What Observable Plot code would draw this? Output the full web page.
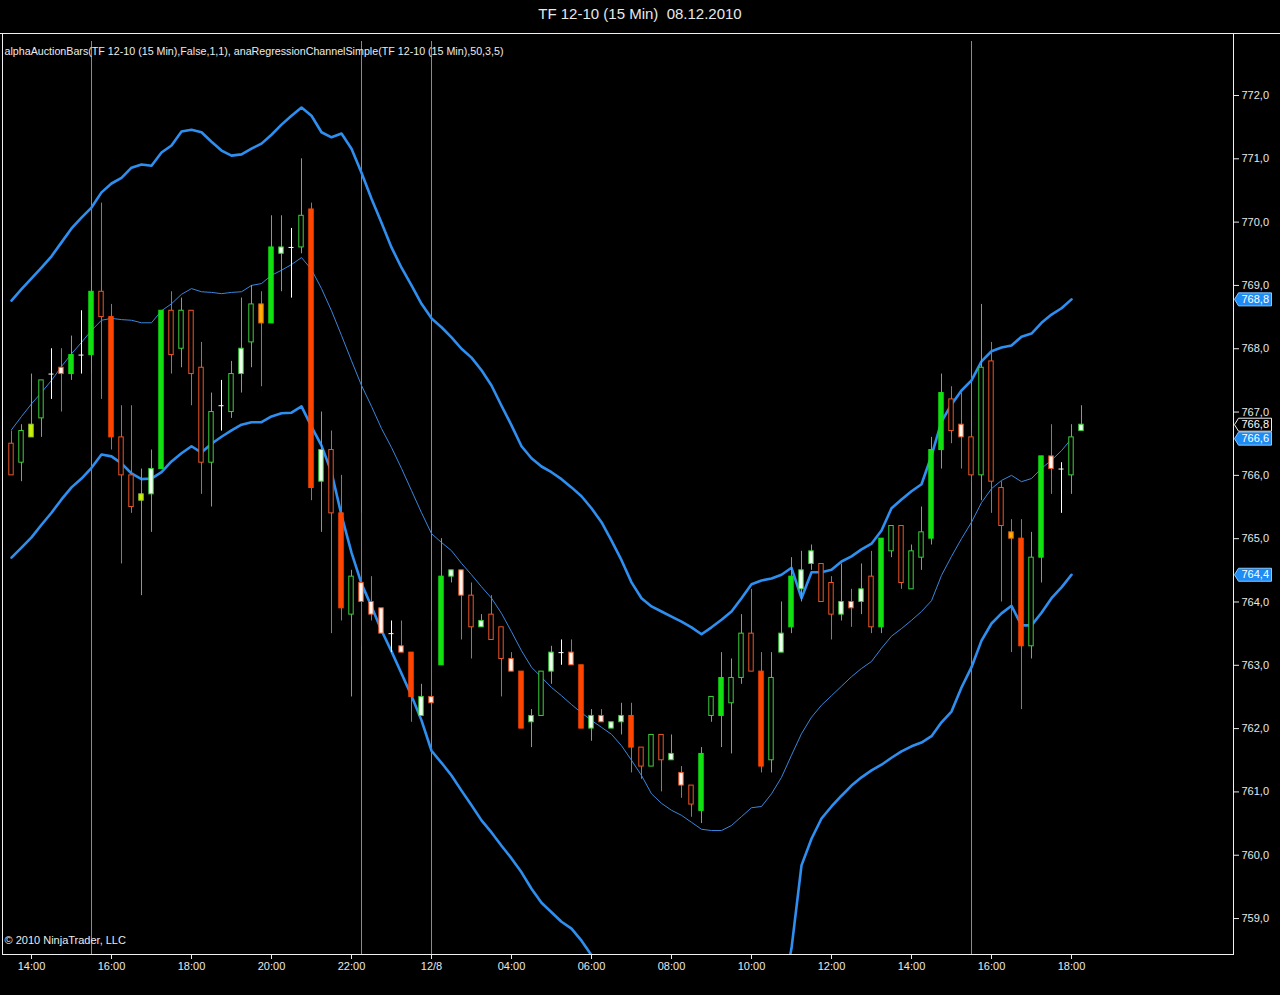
<!DOCTYPE html>
<html>
<head>
<meta charset="utf-8">
<script src="https://cdn.jsdelivr.net/npm/d3@7"></script>
<script src="https://cdn.jsdelivr.net/npm/@observablehq/plot@0.6"></script>
<style>
  html, body { margin: 0; padding: 0; background: #000; overflow: hidden; }
  #title { height: 33px; border-bottom: 1px solid #f0f0f0; color: #e8e8e8; font: 15px "Liberation Sans", Arial, sans-serif;
           text-align: center; line-height: 27px; white-space: pre; }
  #chart svg { display: block; }
</style>
</head>
<body>
<div id="title">TF 12-10 (15 Min)  08.12.2010</div>
<div id="chart"></div>
<script>
// ---- data (15-minute bars, index 0 = 13:30 on 12/7) ----
const barOpen = [766.5,766.2,766.6,766.9,767.6,767.7,767.6,767.9,767.9,768.9, 768.5,766.6,766.0,765.6,765.7,766.1,768.6,768.0,768.6,767.7, 766.2,767.1,767.0,767.6,768.1,768.7,768.4,769.5,769.6,769.6, 770.2,765.9,766.4,765.4,763.8,764.3,764.0,763.9,763.5,763.3, 763.2,762.2,762.5,763.0,764.4,764.5,764.1,763.6,763.8,763.6, 763.1,762.9,762.1,762.2,762.9,763.2,763.2,763.0,762.0,762.2, 762.0,762.1,762.2,761.7,761.4,761.9,761.5,761.3,761.1,760.7, 762.2,762.2,762.4,762.8,763.5,762.9,761.5,763.2,763.6,764.2, 764.6,764.6,764.3,763.8,764.0,764.0,764.4,763.6,764.8,765.2, 764.2,764.7,765.0,766.4,767.2,766.8,766.6,766.0,767.8,765.8, 765.1,765.0,763.3,764.7,766.3,766.1,766.0,766.7];
const barHigh = [766.7,766.8,767.6,767.5,768.0,768.0,768.2,768.6,769.3,770.3, 768.7,767.1,767.1,766.1,766.4,768.6,768.9,768.8,768.6,768.1, 767.3,767.5,767.8,768.8,769.0,768.9,770.1,770.1,769.9,771.0, 770.3,767.0,766.7,766.0,764.5,765.4,764.4,763.9,763.7,763.7, 763.2,762.7,763.7,765.0,764.5,764.5,764.3,763.8,764.1,763.6, 763.2,762.9,762.3,762.9,763.3,763.4,763.4,763.0,762.3,762.3, 762.1,762.4,762.4,761.7,761.9,761.9,761.9,761.4,761.1,761.7, 762.5,763.2,763.1,763.8,764.2,763.2,763.2,764.0,764.7,764.8, 764.9,764.6,764.4,764.6,764.2,764.6,764.8,765.0,765.2,765.2, 764.9,765.5,766.6,767.6,767.4,767.3,766.7,768.7,768.1,765.9, 765.3,765.3,765.1,766.3,766.8,766.2,766.8,767.1];
const barLow = [766.0,765.9,766.6,766.6,767.2,767.0,767.5,767.6,767.6,767.2, 766.4,764.6,765.4,764.1,765.1,766.1,767.6,767.7,767.1,765.7, 765.5,766.7,766.9,767.3,767.7,767.4,768.4,768.9,768.8,769.5, 765.6,765.1,763.5,763.7,762.5,763.3,763.7,763.5,763.2,763.2, 762.1,762.2,762.4,763.0,764.3,763.4,763.1,763.6,763.4,762.5, 762.9,762.0,761.7,762.2,762.7,763.0,763.0,762.0,761.8,762.1, 762.0,761.9,761.3,761.2,761.4,761.0,761.5,760.9,760.6,760.5, 762.1,761.7,761.6,762.7,762.9,761.3,761.3,763.2,763.5,764.0, 764.5,764.0,763.4,763.7,763.6,763.8,763.5,763.5,764.7,764.2, 764.2,764.5,764.9,766.1,766.5,766.1,765.9,765.6,765.4,764.0, 763.2,762.3,763.1,764.3,765.7,765.4,765.7,766.7];
const barClose = [766.0,766.7,766.8,767.5,767.6,767.6,767.9,767.9,768.9,768.5, 766.6,766.0,765.5,765.7,766.1,768.6,767.9,768.6,767.6,766.2, 767.0,767.1,767.6,768.0,768.7,768.4,769.6,769.6,769.6,770.1, 765.8,766.4,765.4,763.9,764.4,764.0,763.8,763.5,763.5,763.2, 762.5,762.5,762.4,764.4,764.5,764.1,763.6,763.7,763.4,763.1, 762.9,762.0,762.2,762.9,763.2,763.2,763.0,762.0,762.2,762.1, 762.1,762.2,761.7,761.4,761.9,761.5,761.6,761.1,760.8,761.6, 762.5,762.8,762.8,763.5,762.9,761.4,762.8,763.5,764.4,764.5, 764.8,764.0,763.8,764.0,763.9,764.2,763.6,765.0,765.2,764.3, 764.8,765.1,766.4,767.3,766.7,766.6,766.0,767.7,765.9,765.2, 765.0,763.3,764.7,766.3,766.1,766.1,766.6,766.8];
// auction-bar category: G strong up, R strong down, g up, r down, wg/wr small up/down, y/o signal bars, d doji
const barKind = ["r","g","y","g","d","wr","G","d","G","r", "R","r","r","y","wg","G","r","g","r","r", "g","d","g","wg","g","o","G","wg","d","g", "R","wg","r","R","g","wr","wr","wr","d","wr", "R","wg","wr","G","wg","wr","r","wg","r","r", "wr","R","wg","g","wg","d","wr","R","wg","wr", "wg","wg","R","r","g","r","wg","wr","r","G", "g","G","g","g","r","R","g","wg","G","wg", "wg","r","r","wg","wr","wg","r","G","g","r", "g","g","G","G","r","wr","r","g","r","r", "o","R","g","G","wr","d","g","wg"];

// regression channel (per bar, bars 0..106)
const channelUpper = [768.76,768.94,769.11,769.28,769.46,769.68,769.90,770.07,770.23,770.47, 770.61,770.70,770.86,770.91,770.89,771.10,771.21,771.43,771.46,771.42, 771.27,771.13,771.05,771.07,771.16,771.24,771.38,771.54,771.68,771.81, 771.68,771.42,771.34,771.40,771.16,770.78,770.37,769.99,769.60,769.28, 769.00,768.71,768.48,768.34,768.18,768.00,767.86,767.66,767.42,767.10, 766.79,766.46,766.27,766.14,766.05,765.94,765.81,765.67,765.48,765.26, 764.97,764.66,764.31,764.06,763.93,763.85,763.77,763.69,763.60,763.49, 763.60,763.72,763.85,764.06,764.28,764.34,764.37,764.43,764.54,764.06, 764.47,764.47,764.51,764.64,764.72,764.83,764.92,765.13,765.48,765.62, 765.75,765.86,766.31,766.85,767.12,767.34,767.50,767.80,767.96,768.02, 768.05,768.19,768.24,768.41,768.54,768.64,768.78];
const channelMiddle = [766.72,766.93,767.13,767.31,767.50,767.72,767.92,768.10,768.29,768.45, 768.48,768.46,768.45,768.41,768.41,768.60,768.71,768.86,768.95,768.90, 768.89,768.87,768.89,768.90,769.00,769.03,769.16,769.24,769.33,769.44, 769.25,768.95,768.60,768.21,767.81,767.42,767.09,766.74,766.44,766.11, 765.76,765.41,765.08,764.94,764.81,764.61,764.43,764.24,764.06,763.82, 763.53,763.23,762.97,762.81,762.65,762.52,762.38,762.25,762.13,762.02, 761.91,761.73,761.50,761.26,760.97,760.82,760.71,760.63,760.52,760.41, 760.39,760.39,760.47,760.61,760.75,760.77,760.97,761.23,761.58,761.92, 762.18,762.37,762.52,762.67,762.82,762.95,763.06,763.27,763.46,763.58, 763.71,763.85,764.02,764.42,764.72,765.00,765.26,765.57,765.79,765.92, 766.00,765.90,765.95,766.11,766.24,766.39,766.58];
const channelLower = [764.70,764.86,765.02,765.22,765.41,765.62,765.81,765.95,766.12,766.33, 766.30,766.19,766.03,765.94,765.95,766.05,766.22,766.35,766.46,766.36, 766.50,766.61,766.71,766.80,766.84,766.84,766.93,766.98,766.99,767.09, 766.77,766.47,766.05,765.37,764.78,764.29,763.93,763.55,763.22,762.87, 762.52,762.13,761.65,761.46,761.26,761.02,760.79,760.55,760.36,760.15, 759.95,759.73,759.47,759.25,759.10,758.95,758.84,758.65,758.42,758.10, 757.83,757.63,757.47,757.36,757.26,757.23,757.20,757.17,757.14,757.07, 757.15,757.23,757.26,757.31,757.39,757.47,757.55,757.71,758.53,759.84, 760.26,760.58,760.77,760.94,761.10,761.23,761.34,761.43,761.54,761.64, 761.72,761.78,761.88,762.10,762.27,762.65,762.97,763.39,763.66,763.82, 763.94,763.63,763.63,763.83,764.06,764.23,764.43];

const xTickIdx = [2,10,18,26,34,42,50,58,66,74,82,90,98,106];
const xTickLabels = ["14:00","16:00","18:00","20:00","22:00","12/8","04:00","06:00","08:00","10:00","12:00","14:00","16:00","18:00"];
const yTicks = [759,760,761,762,763,764,765,766,767,768,769,770,771,772];
const sessionBreaks = [8,35,42,96];

const indicatorText = "alphaAuctionBars(TF 12-10 (15 Min),False,1,1), anaRegressionChannelSimple(TF 12-10 (15 Min),50,3,5)";
const copyrightText = "\u00a9 2010 NinjaTrader, LLC";

// ---- build tables ----
const bars = barOpen.map((o, i) => ({i, open: o, high: barHigh[i], low: barLow[i], close: barClose[i], kind: barKind[i]}));
const channel = channelUpper.map((u, i) => ({i, upper: u, middle: channelMiddle[i], lower: channelLower[i]}));
const last = channel[channel.length - 1];
const markers = [
  {value: last.upper, box: "band"},
  {value: last.middle, box: "band"},
  {value: last.lower, box: "band"},
  {value: bars[bars.length - 1].close, box: "price"}
];

// ---- styling ----
const GREEN = "#11e011", GREEN_T = "#3ccf3c", RED = "#ff4500", RED_T = "#ec5626";
const bodyFill = {G: GREEN, R: RED, g: "#000", r: "#000", wg: "#f4fff4", wr: "#fff6f0", y: "#ccf000", o: "#ffb000"};
const bodyStroke = {G: GREEN, R: RED, g: GREEN_T, r: RED_T, wg: GREEN_T, wr: RED_T, y: "#9acd32", o: "#e86a10"};
const wickColor = {G: GREEN_T, R: RED_T, g: GREEN_T, r: RED_T, wg: GREEN_T, wr: RED_T, y: GREEN_T, o: RED_T, d: "#ffffff"};
const fmtPrice = v => v.toFixed(1).replace(".", ",");

const arrowBox = {
  draw(ctx) {
    ctx.moveTo(1, 0); ctx.lineTo(5, -6.5); ctx.lineTo(38, -6.5); ctx.lineTo(38, 6.5); ctx.lineTo(5, 6.5); ctx.closePath();
  }
};

const bodies = bars.filter(d => d.kind !== "d");
const dojis = bars.filter(d => d.kind === "d");

const chart = Plot.plot({
  width: 1280,
  height: 961,
  marginTop: 0,
  marginBottom: 41,
  marginLeft: 2,
  marginRight: 47,
  style: {background: "#000", color: "#e8e8e8", fontFamily: "'Liberation Sans', Arial, sans-serif", fontSize: "11px"},
  x: {domain: [-0.9, 122.2], label: null},
  y: {domain: [758.432, 772.9635], label: null},
  color: {type: "identity"},
  marks: [
    Plot.ruleX(sessionBreaks, {x: d => d, stroke: "#8a8a8a", strokeWidth: 1, insetTop: 7}),
    Plot.frame({anchor: "left", stroke: "#f0f0f0"}),
    Plot.frame({anchor: "right", stroke: "#f0f0f0"}),
    Plot.frame({anchor: "bottom", stroke: "#f0f0f0"}),
    Plot.axisY(yTicks, {anchor: "right", tickFormat: fmtPrice, tickSize: 5, tickPadding: 3, label: null}),
    Plot.axisX(xTickIdx, {anchor: "bottom", tickFormat: d => xTickLabels[xTickIdx.indexOf(d)], tickSize: 5, tickPadding: 3, label: null}),
    // regression channel
    Plot.line(channel, {x: "i", y: "middle", stroke: "#3a86dc", strokeWidth: 1, clip: true}),
    Plot.line(channel, {x: "i", y: "upper", stroke: "#2e8ff0", strokeWidth: 2.6, clip: true}),
    Plot.line(channel, {x: "i", y: "lower", stroke: "#2e8ff0", strokeWidth: 2.6, clip: true}),
    // candles
    Plot.ruleX(bars, {x: "i", y1: "low", y2: "high", stroke: d => wickColor[d.kind], strokeWidth: 1}),
    Plot.rect(bodies, {x1: d => d.i - 0.22, x2: d => d.i + 0.22, y1: "open", y2: "close",
      fill: d => bodyFill[d.kind], stroke: d => bodyStroke[d.kind], strokeWidth: 1}),
    Plot.ruleY(dojis, {x1: d => d.i - 0.25, x2: d => d.i + 0.25, y: "close", stroke: "#ffffff", strokeWidth: 1}),
    // texts
    Plot.text([indicatorText], {text: d => d, frameAnchor: "top-left", dx: 2, dy: 13, textAnchor: "start", fill: "#ececec", fontSize: 10.7}),
    Plot.text([copyrightText], {text: d => d, frameAnchor: "bottom-left", dx: 2, dy: -11, textAnchor: "start", fill: "#ececec", fontSize: 11}),
    // last-value markers
    Plot.dot(markers, {y: "value", frameAnchor: "right", symbol: arrowBox, r: 5,
      fill: d => d.box === "band" ? "#1e8cf5" : "#000", stroke: d => d.box === "band" ? "#8cc8ff" : "#f0f0f0", strokeWidth: 1}),
    Plot.text(markers, {y: "value", text: d => fmtPrice(d.value), frameAnchor: "right", dx: 8, textAnchor: "start", fill: "#ffffff", fontSize: 11})
  ]
});
document.getElementById("chart").appendChild(chart);
</script>
</body>
</html>
